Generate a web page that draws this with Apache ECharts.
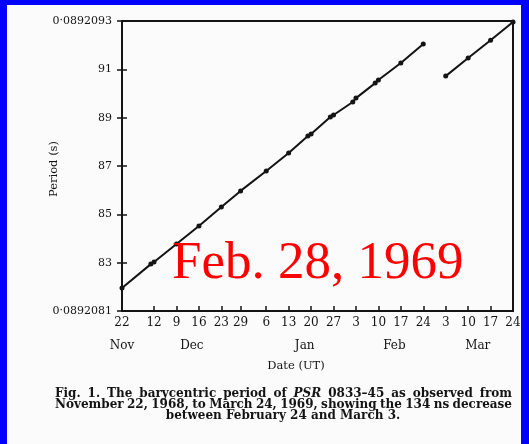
<!DOCTYPE html>
<html>
<head>
<meta charset="utf-8">
<script src="https://cdn.jsdelivr.net/npm/echarts@6/dist/echarts.min.js"></script>
<style>
  html, body { margin: 0; padding: 0; background: #0000ff; }
  #chart { width: 529px; height: 444px; }
</style>
</head>
<body>
<div id="chart"></div>
<script>
// Barycentric period of PSR 0833-45, 1968 Nov 22 – 1969 Mar 24.
// x: days after 1968 Nov 22 (UT); y: period minus 0.0892 s, in ns.
const daysBefore   = [0, 9, 10, 17, 24, 31, 37, 45, 52, 58, 59, 65, 66, 72, 73, 79, 80, 87, 94];
const periodBefore = [8195, 8294, 8303, 8377, 8452, 8530, 8597, 8679, 8754, 8824, 8832, 8903, 8911, 8965, 8981, 9043, 9056, 9126, 9205];
const daysAfter    = [101, 108, 115, 122];
const periodAfter  = [9072, 9147, 9220, 9296];

// Date axis: tick days and their day-of-month labels, then the month row
const dayTicks      = [0, 10, 17, 24, 31, 37, 45, 52, 59, 66, 73, 80, 87, 94, 101, 108, 115, 122];
const dayTickLabels = ['22', '12', '9', '16', '23', '29', '6', '13', '20', '27', '3', '10', '17', '24', '3', '10', '17', '24'];
const monthDays     = [0, 21.8, 57, 85, 111];
const monthLabels   = ['Nov', 'Dec', 'Jan', 'Feb', 'Mar'];

// Period axis
const periodTicks      = [8100, 8300, 8500, 8700, 8900, 9100, 9300];
const periodTickLabels = ['0·0892081', '83', '85', '87', '89', '91', '0·0892093'];

const captionLines = [
  'Fig. 1.  The barycentric period of PSR 0833–45 as observed from',
  'November 22, 1968, to March 24, 1969, showing the 134 ns decrease',
  'between February 24 and March 3.'
];
const stampText = 'Feb. 28, 1969';

const SERIF = '"DejaVu Serif", "Liberation Serif", serif';
const INK = '#141414';
const CAPTION_FONT = 'bold 12px ' + SERIF;
const CAPTION_ITALIC = 'italic bold 12px ' + SERIF;

function lookup(values, labels) {
  return function (v) {
    for (let i = 0; i < values.length; i++) {
      if (Math.abs(values[i] - v) < 1e-6) return labels[i];
    }
    return '';
  };
}

const chart = echarts.init(document.getElementById('chart'), null, { renderer: 'canvas' });

// Caption: justified lines built word by word
const measureCtx = document.createElement('canvas').getContext('2d');
function captionElements() {
  const els = [];
  const left = 55, right = 512, lineY = [394, 405, 416];
  captionLines.forEach(function (line, li) {
    const words = line.split(/\s+/);
    const fonts = words.map(function (w) {
      return w === 'PSR' ? CAPTION_ITALIC : CAPTION_FONT;
    });
    const widths = words.map(function (w, i) {
      measureCtx.font = fonts[i];
      return measureCtx.measureText(w).width;
    });
    const total = widths.reduce(function (a, b) { return a + b; }, 0);
    let gap, x;
    if (li < captionLines.length - 1) {
      gap = (right - left - total) / (words.length - 1);
      x = left;
    } else {
      measureCtx.font = CAPTION_FONT;
      gap = measureCtx.measureText(' ').width;
      x = 283 - (total + gap * (words.length - 1)) / 2;
    }
    words.forEach(function (w, i) {
      els.push({
        type: 'text', x: x, y: lineY[li], z: 20,
        style: { text: w, font: fonts[i], fill: INK, textAlign: 'left', verticalAlign: 'middle', textVerticalAlign: 'middle' }
      });
      x += widths[i] + gap;
    });
  });
  return els;
}

const option = {
  backgroundColor: '#0000ff',
  animation: false,
  grid: {
    left: 122, right: 16, top: 21, bottom: 133,
    show: true, borderColor: INK, borderWidth: 2, backgroundColor: 'transparent'
  },
  xAxis: [
    {
      type: 'value', min: 0, max: 122, position: 'bottom',
      axisLine: { show: true, lineStyle: { color: INK, width: 2 } },
      axisTick: { show: true, inside: true, length: 5, customValues: dayTicks, lineStyle: { color: INK, width: 1.5 } },
      axisLabel: {
        customValues: dayTicks, formatter: lookup(dayTicks, dayTickLabels),
        color: INK, fontFamily: SERIF, fontSize: 12, margin: 6, showMinLabel: true, showMaxLabel: true
      },
      splitLine: { show: false }
    },
    {
      type: 'value', min: 0, max: 122, position: 'bottom', offset: 23,
      axisLine: { show: false }, axisTick: { show: false },
      axisLabel: {
        customValues: monthDays, formatter: lookup(monthDays, monthLabels),
        color: INK, fontFamily: SERIF, fontSize: 12, margin: 6
      },
      splitLine: { show: false }
    }
  ],
  yAxis: [
    {
      type: 'value', min: 8100, max: 9300, position: 'left',
      axisLine: { show: true, lineStyle: { color: INK, width: 2 } },
      axisTick: { show: true, inside: true, length: 5, customValues: periodTicks, lineStyle: { color: INK, width: 1.5 } },
      axisLabel: {
        customValues: periodTicks, formatter: lookup(periodTicks, periodTickLabels),
        color: INK, fontFamily: SERIF, fontSize: 11, margin: 10
      },
      splitLine: { show: false }
    },
    {
      type: 'value', min: 8100, max: 9300, position: 'right',
      axisLine: { show: true, lineStyle: { color: INK, width: 2 } },
      axisTick: { show: true, inside: true, length: 5, customValues: periodTicks, lineStyle: { color: INK, width: 1.5 } },
      axisLabel: { show: false },
      splitLine: { show: false }
    }
  ],
  series: [
    {
      type: 'line', xAxisIndex: 0, yAxisIndex: 0,
      data: daysBefore.map(function (d, i) { return [d, periodBefore[i]]; }),
      symbol: 'circle', symbolSize: 5, showAllSymbol: true,
      lineStyle: { color: INK, width: 2 }, itemStyle: { color: INK }
    },
    {
      type: 'line', xAxisIndex: 0, yAxisIndex: 0,
      data: daysAfter.map(function (d, i) { return [d, periodAfter[i]]; }),
      symbol: 'circle', symbolSize: 5, showAllSymbol: true,
      lineStyle: { color: INK, width: 2 }, itemStyle: { color: INK }
    }
  ],
  graphic: [
    { type: 'rect', z: -10, shape: { x: 7, y: 5, width: 514, height: 439 }, style: { fill: '#fbfbfb' } },
    {
      type: 'text', x: 54, y: 169, rotation: Math.PI / 2, z: 20,
      style: { text: 'Period (s)', font: '11.5px ' + SERIF, fill: INK, textAlign: 'center', verticalAlign: 'middle', textVerticalAlign: 'middle' }
    },
    {
      type: 'text', x: 296, y: 366, z: 20,
      style: { text: 'Date (UT)', font: '11.5px ' + SERIF, fill: INK, textAlign: 'center', verticalAlign: 'middle', textVerticalAlign: 'middle' }
    },
    {
      type: 'text', x: 172, y: 264, z: 30,
      style: { text: stampText, font: '53px "Liberation Serif", "Times New Roman", serif', fill: '#ff0000', textAlign: 'left', verticalAlign: 'middle', textVerticalAlign: 'middle' }
    }
  ].concat(captionElements())
};

chart.setOption(option);
</script>
</body>
</html>
